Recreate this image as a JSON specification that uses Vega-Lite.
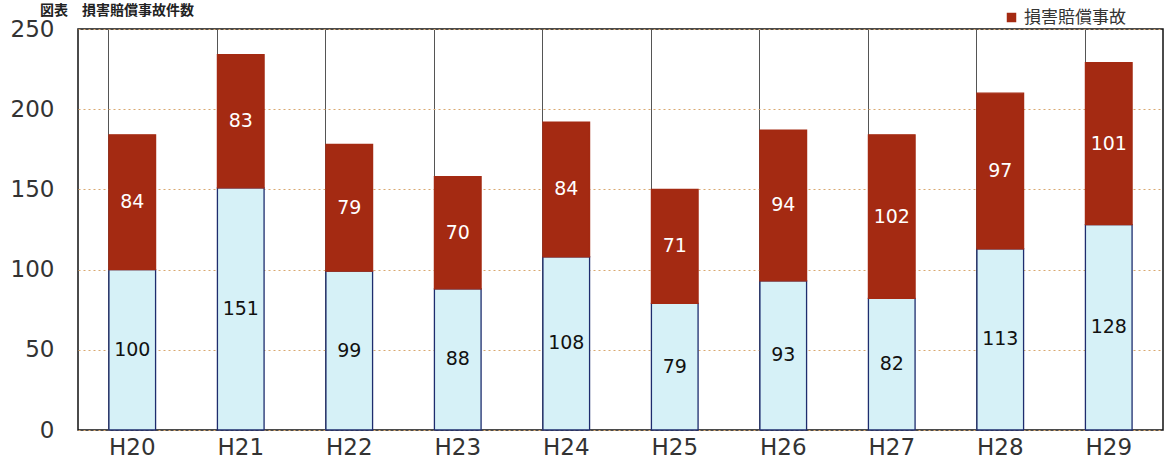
{
  "$schema": "https://vega.github.io/schema/vega-lite/v6.json",
  "width": 1165,
  "height": 461,
  "autosize": {"type": "fit", "contains": "padding"},
  "padding": {"left": 10, "right": 2, "top": 4, "bottom": 2},
  "background": "white",
  "title": {
    "text": "図表　損害賠償事故件数",
    "anchor": "start",
    "fontSize": 14,
    "font": "Noto Sans CJK JP",
    "fontWeight": "bold",
    "color": "#222",
    "offset": 0,
    "dx": 30
  },
  "config": {
    "view": {"stroke": "#111", "strokeWidth": 1.5},
    "font": "DejaVu Sans"
  },
  "data": {
    "values": [
      {"year": "H20", "series": "その他", "order": 1, "count": 100},
      {"year": "H20", "series": "損害賠償事故", "order": 2, "count": 84},
      {"year": "H21", "series": "その他", "order": 1, "count": 151},
      {"year": "H21", "series": "損害賠償事故", "order": 2, "count": 83},
      {"year": "H22", "series": "その他", "order": 1, "count": 99},
      {"year": "H22", "series": "損害賠償事故", "order": 2, "count": 79},
      {"year": "H23", "series": "その他", "order": 1, "count": 88},
      {"year": "H23", "series": "損害賠償事故", "order": 2, "count": 70},
      {"year": "H24", "series": "その他", "order": 1, "count": 108},
      {"year": "H24", "series": "損害賠償事故", "order": 2, "count": 84},
      {"year": "H25", "series": "その他", "order": 1, "count": 79},
      {"year": "H25", "series": "損害賠償事故", "order": 2, "count": 71},
      {"year": "H26", "series": "その他", "order": 1, "count": 93},
      {"year": "H26", "series": "損害賠償事故", "order": 2, "count": 94},
      {"year": "H27", "series": "その他", "order": 1, "count": 82},
      {"year": "H27", "series": "損害賠償事故", "order": 2, "count": 102},
      {"year": "H28", "series": "その他", "order": 1, "count": 113},
      {"year": "H28", "series": "損害賠償事故", "order": 2, "count": 97},
      {"year": "H29", "series": "その他", "order": 1, "count": 128},
      {"year": "H29", "series": "損害賠償事故", "order": 2, "count": 101}
    ]
  },
  "encoding": {
    "x": {
      "field": "year",
      "type": "nominal",
      "sort": null,
      "scale": {"paddingInner": 0.57, "paddingOuter": 0.285},
      "axis": {
        "title": null,
        "labelAngle": 0,
        "labelFont": "DejaVu Sans",
        "labelFontSize": 23,
        "labelColor": "#333",
        "labelPadding": 6,
        "ticks": false,
        "domain": false,
        "grid": true,
        "bandPosition": 0,
        "gridColor": "#555",
        "gridWidth": 1
      }
    }
  },
  "layer": [
    {
      "mark": {"type": "bar", "strokeWidth": 1.3},
      "encoding": {
        "y": {
          "field": "count",
          "type": "quantitative",
          "stack": "zero",
          "scale": {"domain": [0, 250], "nice": false},
          "axis": {
            "title": null,
            "values": [0, 50, 100, 150, 200, 250],
            "labelFont": "DejaVu Sans",
            "labelFontSize": 23,
            "labelColor": "#333",
            "labelPadding": 24,
            "ticks": false,
            "domain": false,
            "gridColor": "#d9a870",
            "gridDash": [2, 3],
            "gridWidth": 1
          }
        },
        "order": {"field": "order"},
        "color": {
          "field": "series",
          "type": "nominal",
          "scale": {"domain": ["その他", "損害賠償事故"], "range": ["#d6f1f7", "#a42a12"]},
          "legend": {
            "title": null,
            "values": ["損害賠償事故"],
            "orient": "none",
            "legendX": 925,
            "legendY": -20,
            "padding": 0,
            "labelFont": "Noto Sans CJK JP",
            "labelFontSize": 17,
            "labelColor": "#333",
            "symbolType": "square",
            "symbolSize": 90,
            "symbolStrokeWidth": 0
          }
        },
        "stroke": {
          "field": "series",
          "type": "nominal",
          "scale": {"domain": ["その他", "損害賠償事故"], "range": ["#1e2d6e", "#a42a12"]},
          "legend": null
        }
      }
    },
    {
      "transform": [
        {"stack": "count", "groupby": ["year"], "sort": [{"field": "order"}], "as": ["y0", "y1"]},
        {"fold": ["y0", "y1"], "as": ["edge", "pos"]}
      ],
      "mark": {"type": "text", "fontSize": 19, "font": "DejaVu Sans", "baseline": "middle"},
      "encoding": {
        "y": {"field": "pos", "aggregate": "mean", "type": "quantitative"},
        "text": {"field": "count", "type": "quantitative"},
        "detail": {"field": "series"},
        "color": {
          "condition": {"test": "datum.series === 'その他'", "value": "#111"},
          "value": "#ffffff"
        }
      }
    }
  ]
}
